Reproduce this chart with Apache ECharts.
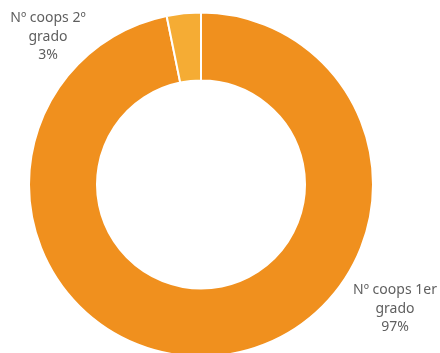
<!DOCTYPE html>
<html>
<head>
<meta charset="utf-8">
<script src="https://cdn.jsdelivr.net/npm/echarts@6/dist/echarts.min.js"></script>
<style>html,body{margin:0;padding:0;background:#fff}#c{width:440px;height:353px}</style>
</head>
<body>
<div id="c"></div>
<script>
const categories = ['Nº coops 1er grado', 'Nº coops 2º grado'];
const labelLines = [['Nº coops 1er', 'grado'], ['Nº coops 2º', 'grado']];
const values = [96.8, 3.2];
const colors = ['#F0901E', '#F5AC34'];

const chart = echarts.init(document.getElementById('c'));
const labelPos = [[395, 309], [48, 37]];
chart.setOption({
  animation: false,
  series: [{
    type: 'pie',
    center: [201, 184.5],
    radius: [104, 172],
    startAngle: 90,
    clockwise: true,
    itemStyle: { borderColor: '#fff', borderWidth: 2 },
    label: {
      show: true,
      position: 'outside',
      formatter: p => labelLines[p.dataIndex].join('\n') + '\n' + Math.round(p.percent) + '%',
      color: '#5f5f5f',
      fontSize: 14,
      lineHeight: 18.5,
      fontFamily: '"Noto Sans", sans-serif',
      align: 'center'
    },
    labelLine: { show: false },
    labelLayout: function (p) {
      const pos = labelPos[p.dataIndex];
      return { x: pos[0], y: pos[1], align: 'center', verticalAlign: 'middle' };
    },
    data: categories.map((c, i) => ({ name: c, value: values[i], itemStyle: { color: colors[i] } }))
  }]
});
</script>
</body>
</html>
